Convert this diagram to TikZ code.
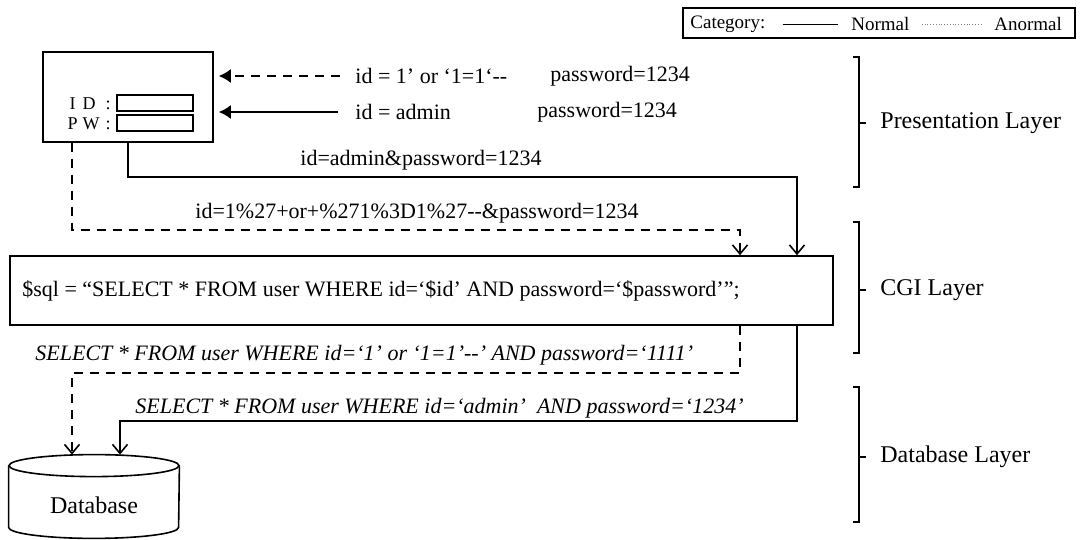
\documentclass[tikz,border=0pt]{standalone}
\usepackage{fontspec}
\setmainfont{Liberation Serif}
\usetikzlibrary{arrows.meta,positioning,shapes.geometric,calc}
\newcommand{\dblhyph}{-\kern0pt-}

\begin{document}
\begin{tikzpicture}[x=0.5pt, y=-0.5pt,
  normal/.style={thick},
  anormal/.style={thick, dash pattern=on 4.5pt off 3.5pt},
  arrowL/.style={-{Latex[length=6pt,width=7pt]}, shorten >=2.5pt},
  arrowV/.style={-{Straight Barb[length=4.5pt,width=7.5pt]}},
  framebox/.style={draw, thick, inner sep=0pt},
  fieldbox/.style={draw, thick, minimum width=38pt, minimum height=8pt, inner sep=0pt},
  fieldlbl/.style={anchor=east, inner sep=0pt, font=\fontsize{9}{10}\selectfont},
  msg/.style={anchor=west, inner sep=0pt, font=\fontsize{11}{13}\selectfont},
  query/.style={msg, font=\fontsize{11}{13}\selectfont\itshape},
  lgd/.style={anchor=west, inner sep=0pt, font=\fontsize{9.5}{11}\selectfont},
  layerlbl/.style={anchor=west, inner sep=0pt, font=\fontsize{12}{14}\selectfont}
]
  \useasboundingbox (0,0) rectangle (1082,540);

  % legend
  \node[draw, very thick, minimum width=196pt, minimum height=15pt, inner sep=0pt] (legend) at (879,23) {};
  \node[lgd] (cat) at (690,24) {Category:};
  \node[lgd] (nrm) at (851,24) {Normal};
  \node[lgd] (anr) at (994,24) {Anormal};
  \draw ([xshift=8.5pt]cat.east) -- ([xshift=-6.5pt]nrm.west);
  \draw[densely dotted, gray, thin] ([xshift=6pt]nrm.east) -- ([xshift=-5.5pt]anr.west);

  % login form
  \node[framebox, minimum width=85pt, minimum height=45pt] (login) at (128,97) {};
  \node[fieldbox] (idf) at (155,103) {};
  \node[fieldbox] (pwf) at (155,123) {};
  \node[fieldlbl] (idl) at (111,104) {I\hspace{3.5pt}D\hspace{5pt}:};
  \node[fieldlbl] (pwl) at (111,124) {P\hspace{2.5pt}W\hspace{3pt}:};

  % user input
  \coordinate (injsrc) at (340,76);
  \coordinate (usrsrc) at (338,112);
  \draw[anormal, arrowL] (injsrc) -- (injsrc -| login.east);
  \draw[normal, arrowL] (usrsrc) -- (usrsrc -| login.east);
  \node[msg] (injid) at (355,76) {id = 1’ or ‘1=1‘\dblhyph};
  \node[msg] (injpw) at (550,76) {password=1234};
  \node[msg] (usrid) at (355,112) {id = admin};
  \node[msg] (usrpw) at (537,112) {password=1234};

  % CGI
  \node[framebox, minimum width=411.5pt, minimum height=34.5pt] (cgi) at (421.5,290.5) {};
  \node[msg] (sql) at (22,291) {\$sql = “SELECT * FROM user WHERE id=‘\$id’ AND password=‘\$password’”;};

  % requests
  \coordinate (nturn) at (797,177);
  \coordinate (aturn) at (740,230);
  \draw[normal, arrowV] (login.south) |- (nturn) -- (nturn |- cgi.north);
  \draw[anormal, arrowV] ([xshift=-28pt]login.south) |- (aturn) -- (aturn |- cgi.north);
  \node[msg] (nreq) at (300,160) {id=admin\&password=1234};
  \node[msg] (areq) at (195,213) {id=1\%27+or+\%271\%3D1\%27\dblhyph\&password=1234};

  % database
  \node[minimum width=85pt, minimum height=41.5pt, inner sep=0pt] (db) at (94,496.5) {};
  \draw[thick] ([yshift=-5.5pt]db.north) ellipse [x radius=42.5pt, y radius=5.5pt];
  \draw[thick] ([yshift=-5.5pt]db.north west) -- ([yshift=5.5pt]db.south west)
    arc[start angle=180, end angle=360, x radius=42.5pt, y radius=5.5pt]
    -- ([yshift=-5.5pt]db.north east);
  \node[font=\fontsize{12}{14}\selectfont] (dbtxt) at ([yshift=-4.25pt]db.center) {Database};

  % queries
  \coordinate (aback) at (740,373);
  \coordinate (nback) at (797,421);
  \draw[anormal, arrowV] (aback |- cgi.south) -- (aback) -| ([xshift=-11pt]db.north);
  \draw[normal, arrowV] (nback |- cgi.south) -- (nback) -| ([xshift=13pt]db.north);
  \node[query] (aqry) at (35,355) {SELECT * FROM user WHERE id=‘1’ or ‘1=1’\dblhyph’ AND password=‘1111’};
  \node[query] (nqry) at (135,408) {SELECT * FROM user WHERE id=‘admin’\ \ AND password=‘1234’};

  % layers
  \foreach \ytop/\ybot/\ymid/\lbl [count=\i] in {57/187/123/Presentation Layer,
      222/353/290/CGI Layer, 387/522/457/Database Layer} {
    \draw[thick] (853,\ytop) -- (859,\ytop) -- (859,\ybot) -- (853,\ybot);
    \draw[thick] (859,\ymid) -- (866,\ymid);
    \node[layerlbl] (layer\i) at (880,\ymid) {\lbl};
  }
\end{tikzpicture}
\end{document}
